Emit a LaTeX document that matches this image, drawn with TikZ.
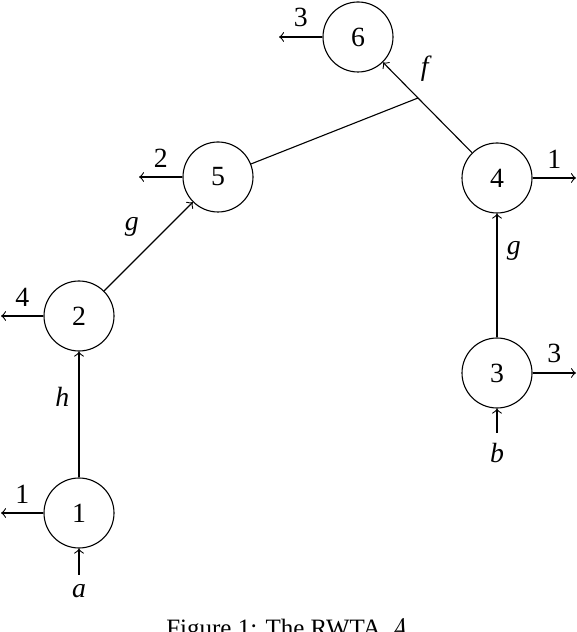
\documentclass[tikz,border=0pt]{standalone}
\usepackage{fontspec}
\setmainfont{Liberation Serif}
\usepackage{amsmath}
\usepackage{amssymb}
\tikzset{state/.style={draw, circle, minimum size=25.2pt, inner sep=0pt}}

\begin{document}
\begin{tikzpicture}[x=0.36pt,y=0.36pt]
   \useasboundingbox (0,0) rectangle (576,632);
   % states
   \node[state] (q1) at (79,119) {1};
   \node[state] (q2) at (79,316) {2};
   \node[state] (q5) at (218,455) {5};
   \node[state] (q6) at (358,595) {6};
   \node[state] (q4) at (497,454) {4};
   \node[state] (q3) at (497,259) {3};
   \coordinate (j) at (418,534);
   % inputs
   \coordinate (ia) at (79,57);
   \coordinate (ib) at (497,199);
   \draw[->] (ia)node[anchor=north]{\textit{a}} -- (q1);
   \draw[->] (ib)node[anchor=north]{\textit{b}} -- (q3);
   % transitions
   \draw[->] (q1) -- node[pos=0.64, anchor=east]{\textit{h}} (q2);
   \draw[->] (q2) -- node[anchor=south east]{\textit{g}} (q5);
   \draw[->] (q3) -- node[pos=0.7, anchor=west]{\textit{g}} (q4);
   \draw (q5) -- (j);
   \draw[->] (q4) -- (j) -- node[pos=0.2, anchor=south west]{\textit{f}} (q6);
   % final weights
   \coordinate (o1) at (1,119);
   \coordinate (o2) at (1,316);
   \coordinate (o5) at (139,455);
   \coordinate (o6) at (279,595);
   \coordinate (o4) at (576,454);
   \coordinate (o3) at (576,259);
   \draw[->] (q1) -- (o1) node[midway, anchor=south]{1};
   \draw[->] (q2) -- (o2) node[midway, anchor=south]{4};
   \draw[->] (q5) -- (o5) node[midway, anchor=south]{2};
   \draw[->] (q6) -- (o6) node[midway, anchor=south]{3};
   \draw[->] (q4) -- (o4) node[midway, anchor=south]{1};
   \draw[->] (q3) -- (o3) node[midway, anchor=south]{3};
   % caption
   \node[anchor=base, font=\small] (cap) at (287,-5) {Figure 1: The RWTA $\mathcal{A}$};
\end{tikzpicture}
\end{document}
